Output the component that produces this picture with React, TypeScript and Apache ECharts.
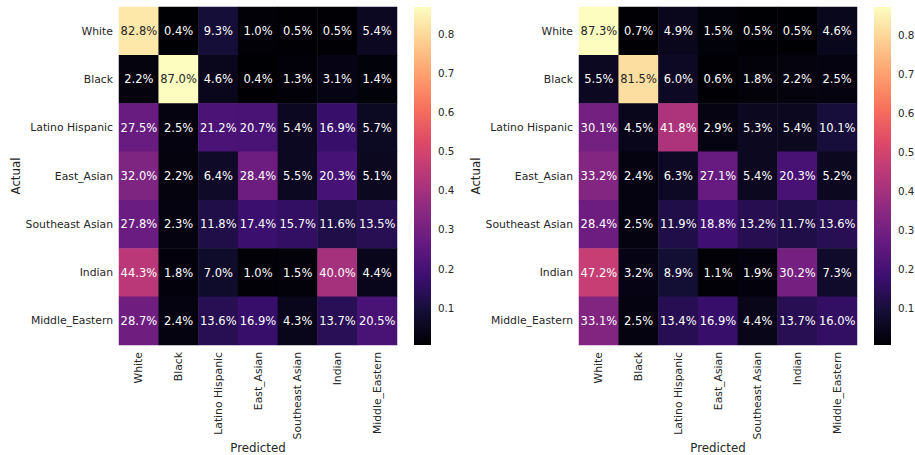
import React, { useEffect, useRef } from "react";
import * as echarts from "echarts";

const classes = ["White", "Black", "Latino Hispanic", "East_Asian", "Southeast Asian", "Indian", "Middle_Eastern"];

const leftMatrix = [
  [82.8, 0.4, 9.3, 1.0, 0.5, 0.5, 5.4],
  [2.2, 87.0, 4.6, 0.4, 1.3, 3.1, 1.4],
  [27.5, 2.5, 21.2, 20.7, 5.4, 16.9, 5.7],
  [32.0, 2.2, 6.4, 28.4, 5.5, 20.3, 5.1],
  [27.8, 2.3, 11.8, 17.4, 15.7, 11.6, 13.5],
  [44.3, 1.8, 7.0, 1.0, 1.5, 40.0, 4.4],
  [28.7, 2.4, 13.6, 16.9, 4.3, 13.7, 20.5],
];

const rightMatrix = [
  [87.3, 0.7, 4.9, 1.5, 0.5, 0.5, 4.6],
  [5.5, 81.5, 6.0, 0.6, 1.8, 2.2, 2.5],
  [30.1, 4.5, 41.8, 2.9, 5.3, 5.4, 10.1],
  [33.2, 2.4, 6.3, 27.1, 5.4, 20.3, 5.2],
  [28.4, 2.5, 11.9, 18.8, 13.2, 11.7, 13.6],
  [47.2, 3.2, 8.9, 1.1, 1.9, 30.2, 7.3],
  [33.1, 2.5, 13.4, 16.9, 4.4, 13.7, 16.0],
];

const colorbarTicks = [0.1, 0.2, 0.3, 0.4, 0.5, 0.6, 0.7, 0.8];

const magma = [
  "#000004", "#140e36", "#3b0f70", "#641a80", "#8c2981", "#b73779",
  "#de4968", "#f7705c", "#fe9f6d", "#fecf92", "#fcfdbf",
];

const FONT = "DejaVu Sans";
const TXT = "#262626";

function toData(m: number[][]) {
  const out: any[] = [];
  m.forEach((row, r) =>
    row.forEach((v, c) => {
      out.push({
        value: [c, r, v / 100],
        label: { color: v / 100 > 0.6 ? TXT : "#ffffff" },
      });
    })
  );
  return out;
}

function range(m: number[][]) {
  const all = m.flat().map((v) => v / 100);
  return [Math.min(...all), Math.max(...all)];
}

export default function App() {
  const ref = useRef<HTMLDivElement>(null);
  useEffect(() => {
    if (!ref.current) return;
    const chart = echarts.init(ref.current, null, { renderer: "svg" });
    const [lmin, lmax] = range(leftMatrix);
    const [rmin, rmax] = range(rightMatrix);
    const stops = magma.map((c, i) => ({ offset: i / (magma.length - 1), color: c }));

    const heatX = (gi: number) => ({
      type: "category",
      gridIndex: gi,
      data: classes,
      axisLine: { show: false },
      axisTick: { show: false },
      splitLine: { show: false },
      axisLabel: { rotate: 90, fontFamily: FONT, fontSize: 10.8, color: TXT, margin: 7 },
      name: "Predicted",
      nameLocation: "middle",
      nameGap: 97,
      nameMoveOverlap: false,
      nameTextStyle: { fontFamily: FONT, fontSize: 11.8, color: TXT },
    });
    const heatY = (gi: number) => ({
      type: "category",
      gridIndex: gi,
      data: classes,
      inverse: true,
      axisLine: { show: false },
      axisTick: { show: false },
      splitLine: { show: false },
      axisLabel: { fontFamily: FONT, fontSize: 10.8, color: TXT, margin: 6 },
      name: "Actual",
      nameLocation: "middle",
      nameRotate: 90,
      nameGap: 97,
      nameMoveOverlap: false,
      nameTextStyle: { fontFamily: FONT, fontSize: 11.8, color: TXT },
    });
    const cbX = (gi: number) => ({ type: "value", gridIndex: gi, min: 0, max: 1, show: false });
    const cbY = (gi: number, mn: number, mx: number) => ({
      type: "value",
      gridIndex: gi,
      min: mn,
      max: mx,
      position: "right",
      axisLine: { show: false },
      splitLine: { show: false },
      axisTick: { show: true, length: 3.5, customValues: colorbarTicks, lineStyle: { color: TXT, width: 0.8 } },
      axisLabel: {
        customValues: colorbarTicks,
        fontFamily: FONT,
        fontSize: 10.3,
        color: TXT,
        margin: 7,
        formatter: (v: number) => v.toFixed(1),
      },
    });

    const cbRender = (params: any, api: any) => {
      const p1 = api.coord([api.value(0), api.value(3)]);
      const p2 = api.coord([api.value(2), api.value(1)]);
      return {
        type: "rect",
        shape: { x: p1[0], y: p1[1], width: p2[0] - p1[0], height: p2[1] - p1[1] },
        style: { fill: new echarts.graphic.LinearGradient(0, 1, 0, 0, stops) },
      };
    };

    const heatLabel = {
      show: true,
      fontFamily: FONT,
      fontSize: 11.5,
      formatter: (p: any) => (p.value[2] * 100).toFixed(1) + "%",
    };

    const g = (left: number, width: number) => ({
      left,
      top: 7,
      width,
      height: 338,
      containLabel: false,
      outerBoundsMode: "none",
    });

    chart.setOption({
      animation: false,
      backgroundColor: "#ffffff",
      grid: [g(119, 278), g(579, 278), g(414, 17), g(874, 17)],
      xAxis: [heatX(0), heatX(1), cbX(2), cbX(3)],
      yAxis: [heatY(0), heatY(1), cbY(2, lmin, lmax), cbY(3, rmin, rmax)],
      visualMap: [
        { type: "continuous", show: false, seriesIndex: 0, dimension: 2, min: lmin, max: lmax, inRange: { color: magma } },
        { type: "continuous", show: false, seriesIndex: 1, dimension: 2, min: rmin, max: rmax, inRange: { color: magma } },
      ],
      series: [
        { type: "heatmap", xAxisIndex: 0, yAxisIndex: 0, data: toData(leftMatrix), label: heatLabel, emphasis: { disabled: true } },
        { type: "heatmap", xAxisIndex: 1, yAxisIndex: 1, data: toData(rightMatrix), label: heatLabel, emphasis: { disabled: true } },
        {
          type: "custom",
          xAxisIndex: 2,
          yAxisIndex: 2,
          renderItem: cbRender,
          encode: { x: [0, 2], y: [1, 3] },
          data: [[0, lmin, 1, lmax]],
        },
        {
          type: "custom",
          xAxisIndex: 3,
          yAxisIndex: 3,
          renderItem: cbRender,
          encode: { x: [0, 2], y: [1, 3] },
          data: [[0, rmin, 1, rmax]],
        },
      ],
    });
    return () => chart.dispose();
  }, []);
  return <div ref={ref} style={{ position: "fixed", left: 0, top: 0, width: 915, height: 455 }} />;
}
